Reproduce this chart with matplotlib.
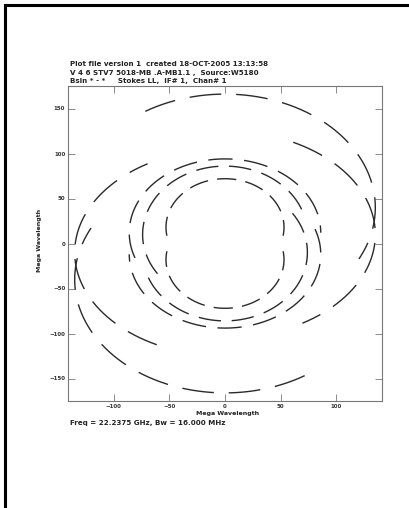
import matplotlib.pyplot as plt
import numpy as np
from matplotlib.lines import Line2D

# uv tracks (Mega Wavelength). Each track is an arc of an
# ellipse u = a sin t, v = v0 + b cos t for t0..t1 (deg); the conjugate
# arc (-u, -v) is drawn as well.
track_a = [135, 135, 86, 74, 53]
track_b = [126, 115, 82, 76, 54]
track_v0 = [40, -10, 12, 10, 18]
track_t0 = [-32, -153, -110, -125, -100]
track_t1 = [117, -31, 90, 75, 100]

x_ticks = [-100, -50, 0, 50, 100]
y_ticks = [-150, -100, -50, 0, 50, 100, 150]

title_lines = [
    "Plot file version 1  created 18-OCT-2005 13:13:58",
    "V 4 6 STV7 5018-MB .A-MB1.1 ,  Source:W5180",
    "Bsln * - *     Stokes LL,  IF# 1,  Chan# 1",
]
freq_label = "Freq = 22.2375 GHz, Bw = 16.000 MHz"
axis_label = "Mega Wavelength"

W, H = 409, 508
fig = plt.figure(figsize=(W / 100, H / 100), dpi=100)
ax = fig.add_axes([68 / W, 1 - 401 / H, (382 - 68) / W, (401 - 86) / H])

for a, b, v0, t0, t1 in zip(track_a, track_b, track_v0, track_t0, track_t1):
    t = np.radians(np.linspace(t0, t1, 300))
    u = a * np.sin(t)
    v = v0 + b * np.cos(t)
    dash = (8 + 0.11 * a, 4 + 0.05 * a)
    for s in (1, -1):
        ax.plot(s * u, s * v, color="#2a2a2a", lw=1.0,
                linestyle=(0, dash), dash_capstyle="butt")

ax.set_xlim(-141, 141)
ax.set_ylim(-175, 175)
ax.set_xticks(x_ticks)
ax.set_yticks(y_ticks)
ax.tick_params(direction="in", length=5, width=0.6, color="#777777",
               labelsize=4, labelcolor="#333333", top=True, right=True, pad=2)
for lab in ax.get_xticklabels() + ax.get_yticklabels():
    lab.set_fontweight("bold")
for sp in ax.spines.values():
    sp.set_color("#777777")
    sp.set_linewidth(0.8)

txt = dict(fontsize=4.5, fontweight="bold", color="#222222")
big = dict(txt, fontsize=5.1)
for i, line in enumerate(title_lines):
    fig.text(70 / W, 1 - (64.5 + 8.3 * i) / H, line, ha="left", va="center", **big)
fig.text(228 / W, 1 - 414 / H, axis_label, ha="center", va="center", **txt)
fig.text(70 / W, 1 - 423 / H, freq_label, ha="left", va="center", **big)
fig.text(39 / W, 1 - 240 / H, axis_label, ha="center", va="center", rotation=90, **txt)

# page frame (top and left edges)
fig.add_artist(Line2D([4.5 / W, 1], [1 - 4.7 / H, 1 - 4.7 / H], color="black", lw=2.2,
                      transform=fig.transFigure))
fig.add_artist(Line2D([4.5 / W, 4.5 / W], [0, 1 - 4.7 / H], color="black", lw=2.2,
                      transform=fig.transFigure))

fig.savefig("out.png", dpi=100)
